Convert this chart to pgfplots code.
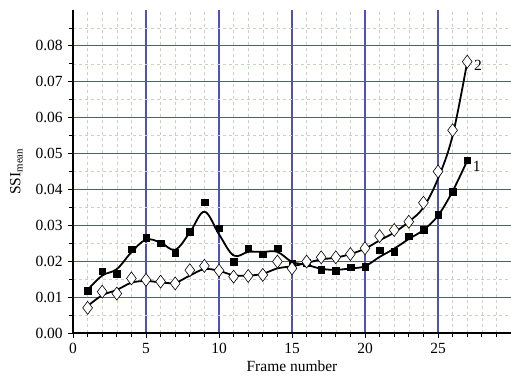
\documentclass[border=0pt]{standalone}
\usepackage{pgfplots}
\pgfplotsset{compat=1.18}
\usepackage{fontspec}
\setmainfont{Liberation Serif}
\definecolor{majgrid}{RGB}{80,80,190}
\definecolor{mingrid}{RGB}{200,210,195}
\begin{document}
\fontsize{15.5}{18}\selectfont
\begin{tikzpicture}
\begin{axis}[
  scale only axis, width=438pt, height=323pt,
  xmin=0, xmax=30, ymin=0, ymax=0.09,
  axis lines*=left,
  axis line style={-, line width=1.4pt},
  xtick={0,5,...,25},
  minor xtick={1,...,30},
  ytick={0,0.01,0.02,0.03,0.04,0.05,0.06,0.07,0.08},
  minor ytick={0.005,0.015,0.025,0.035,0.045,0.055,0.065,0.075,0.085},
  tick align=outside,
  major tick length=5pt, minor tick length=4pt,
  tick style={black, line width=0.8pt},
  grid=both,
  major grid style={draw=majgrid, solid, line width=1.1pt},
  minor grid style={draw=mingrid, dashed, line width=0.5pt},
  yticklabel style={/pgf/number format/.cd, fixed, fixed zerofill, precision=2},
  /pgf/number format/assume math mode=true,
  scaled y ticks=false,
  xlabel={Frame number},
  ylabel={SSI\textsubscript{mean}},
  xlabel style={at={(axis description cs:0.5,0)}, anchor=north, yshift=-22pt},
  ylabel style={at={(axis description cs:0,0.5)}, anchor=south, yshift=45pt},
  clip=false,
]
\coordinate (O) at (rel axis cs:0,0);
% fitted curves
\addplot[black, line width=1.8pt, smooth, tension=0.6] coordinates {
(1,0.0120) (2,0.0160) (3,0.0178) (4,0.0225) (5,0.0260) (6,0.0252) (7,0.0232)
(8,0.0280) (9,0.0338) (10,0.0275) (11,0.0216) (12,0.0226) (13,0.0226) (14,0.0226)
(15,0.0198) (16,0.0190) (17,0.0179) (18,0.0176) (19,0.0180) (20,0.0186) (21,0.0212)
(22,0.0235) (23,0.0262) (24,0.0287) (25,0.0327) (26,0.0395) (27,0.0480)};
\addplot[black, line width=1.8pt, smooth, tension=0.6] coordinates {
(1,0.0075) (2,0.0105) (3,0.0120) (4,0.0140) (5,0.0145) (6,0.0141) (7,0.0140)
(8,0.0160) (9,0.0178) (10,0.0173) (11,0.0161) (12,0.0160) (13,0.0165) (14,0.0180)
(15,0.0186) (16,0.0195) (17,0.0205) (18,0.0210) (19,0.0220) (20,0.0235) (21,0.0258)
(22,0.0280) (23,0.0310) (24,0.0350) (25,0.0430) (26,0.0550) (27,0.0755)};
% data points
\addplot[only marks, mark=square*, mark size=3.3pt, black] coordinates {
(1,0.0118) (2,0.0172) (3,0.0166) (4,0.0233) (5,0.0266) (6,0.0250) (7,0.0224)
(8,0.0283) (9,0.0365) (10,0.0292) (11,0.0198) (12,0.0236) (13,0.0220) (14,0.0236)
(15,0.0195) (16,0.0196) (17,0.0177) (18,0.0174) (19,0.0183) (20,0.0185) (21,0.0231)
(22,0.0226) (23,0.0270) (24,0.0287) (25,0.0329) (26,0.0394) (27,0.0482)};
\addplot[only marks, mark=diamond*, mark size=6.5pt, mark options={fill=white, draw=black, line width=0.6pt}] coordinates {
(1,0.0070) (2,0.0115) (3,0.0110) (4,0.0152) (5,0.0148) (6,0.0143) (7,0.0138)
(8,0.0175) (9,0.0187) (10,0.0174) (11,0.0157) (12,0.0159) (13,0.0162) (14,0.0199)
(15,0.0180) (16,0.0199) (17,0.0211) (18,0.0211) (19,0.0220) (20,0.0236) (21,0.0270)
(22,0.0287) (23,0.0310) (24,0.0363) (25,0.0450) (26,0.0565) (27,0.0756)};
\node[anchor=west, inner sep=1pt] at (axis cs:27.3,0.0465) {1};
\node[anchor=west, inner sep=1pt] at (axis cs:27.4,0.0745) {2};
\end{axis}
\pgfresetboundingbox
\path (O) ++(-73pt,-49pt) rectangle ++(511pt,382pt);
\end{tikzpicture}
\end{document}
